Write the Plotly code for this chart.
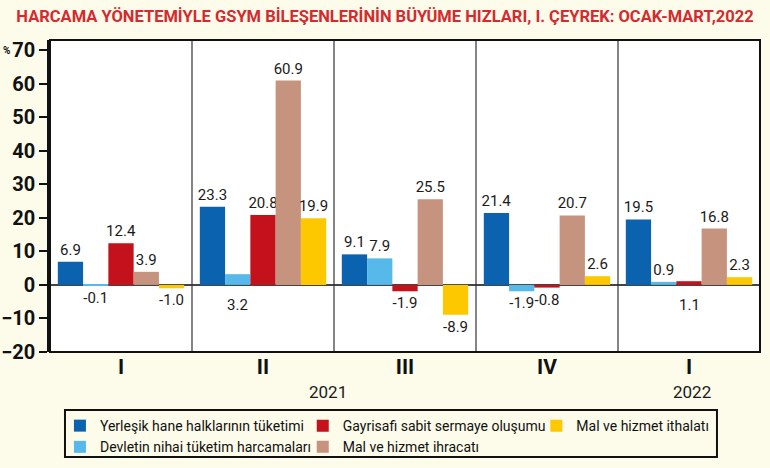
import plotly.graph_objects as go

# ---------------- data ----------------
quarters = ["I", "II", "III", "IV", "I"]
year_labels = ["2021", "2022"]
series_names = [
    "Yerleşik hane halklarının tüketimi",
    "Devletin nihai tüketim harcamaları",
    "Gayrisafi sabit sermaye oluşumu",
    "Mal ve hizmet ihracatı",
    "Mal ve hizmet ithalatı",
]
yerlesik = [6.9, 23.3, 9.1, 21.4, 19.5]
devlet = [-0.1, 3.2, 7.9, -1.9, 0.9]
gayrisafi = [12.4, 20.8, -1.9, -0.8, 1.1]
ihracat = [3.9, 60.9, 25.5, 20.7, 16.8]
ithalat = [-1.0, 19.9, -8.9, 2.6, 2.3]
series_values = [yerlesik, devlet, gayrisafi, ihracat, ithalat]
y_ticks = [-20, -10, 0, 10, 20, 30, 40, 50, 60, 70]
# (series index, quarter index) whose value label sits under the zero line
labels_below_zero = [(1, 1), (2, 4)]

# ---------------- style ----------------
colors = ["#0b62ae", "#56b9ea", "#c3121b", "#c6937e", "#fdc800"]
legend_of_series = ["legend", "legend", "legend2", "legend2", "legend3"]
FONT = "Roboto, Liberation Sans, sans-serif"
BARGAP = 0.11
LABEL_SIZE = 15

x_pos = list(range(len(quarters)))
fig = go.Figure()
for i, (name, vals) in enumerate(zip(series_names, series_values)):
    texts = []
    for q, v in enumerate(vals):
        texts.append("" if (i, q) in labels_below_zero else f"{v:.1f}")
    fig.add_trace(go.Bar(
        x=x_pos, y=vals, name=name,
        marker=dict(color=colors[i], line=dict(width=0)),
        text=texts, textposition="outside", constraintext="none",
        textfont=dict(family=FONT, size=LABEL_SIZE, color="#1a1a1a"),
        cliponaxis=False, legend=legend_of_series[i],
        hovertemplate="%{y}<extra>" + name + "</extra>",
    ))

# labels placed under the zero line for a few small positive bars
n = len(series_names)
bw = (1 - BARGAP) / n
annotations = []
for (i, q) in labels_below_zero:
    off = -(1 - BARGAP) / 2 + bw * (i + 0.5)
    annotations.append(dict(
        x=q + off, y=0, xref="x", yref="y", yanchor="top", yshift=-9,
        text=f"{series_values[i][q]:.1f}", showarrow=False,
        font=dict(family=FONT, size=LABEL_SIZE, color="#1a1a1a")))

# year labels
annotations.append(dict(x=1.46, y=-0.128, xref="x", yref="paper", text=year_labels[0],
                        showarrow=False, yanchor="middle",
                        font=dict(family=FONT, size=17, color="#1a1a1a")))
annotations.append(dict(x=4.02, y=-0.128, xref="x", yref="paper", text=year_labels[1],
                        showarrow=False, yanchor="middle",
                        font=dict(family=FONT, size=17, color="#1a1a1a")))
# percent sign
annotations.append(dict(x=-0.069, y=70, xref="paper", yref="y", text="<b>%</b>",
                        showarrow=False, xanchor="left", yanchor="middle",
                        font=dict(family=FONT, size=10, color="#111")))

shapes = []
# group separators
for k in range(len(quarters) - 1):
    shapes.append(dict(type="line", xref="x", yref="paper", x0=k + 0.5, x1=k + 0.5,
                       y0=0, y1=1, line=dict(color="#333", width=1.2)))
# plot frame
shapes.append(dict(type="rect", xref="paper", yref="paper", x0=0, x1=1, y0=0, y1=1,
                   line=dict(color="#111", width=2)))
# legend frame
shapes.append(dict(type="rect", xref="paper", yref="paper", x0=0.0211, x1=0.9394,
                   y0=-0.3365, y1=-0.1859, line=dict(color="#111", width=2)))

legend_common = dict(orientation="v", yanchor="top", y=-0.186, xanchor="left",
                     bgcolor="rgba(0,0,0,0)", tracegroupgap=0,
                     font=dict(family=FONT, size=14, color="#111"))

fig.update_layout(
    width=770, height=468,
    margin=dict(l=50, r=10, t=40, b=116, autoexpand=False),
    paper_bgcolor="#fdfbea", plot_bgcolor="#ffffff",
    barmode="group", bargap=BARGAP, bargroupgap=0,
    title=dict(text="<b>HARCAMA YÖNETEMİYLE GSYM BİLEŞENLERİNİN BÜYÜME HIZLARI, I. ÇEYREK: OCAK-MART,2022</b>",
               x=0.5, xref="container", xanchor="center", y=1 - 16 / 468, yref="container",
               yanchor="middle", font=dict(family=FONT, size=16.5, color="#d42a30")),
    xaxis=dict(range=[-0.5, len(quarters) - 0.5], tickvals=x_pos, ticktext=quarters,
               showgrid=False, zeroline=False, ticks="", showline=False,
               tickfont=dict(family=FONT, size=21, color="#111", weight="bold")),
    yaxis=dict(range=[-20, 73], tickvals=y_ticks, showgrid=False,
               zeroline=True, zerolinecolor="#444", zerolinewidth=1.5,
               ticks="outside", ticklen=8, tickwidth=2, tickcolor="#111",
               showline=True, linecolor="#111", linewidth=2.5,
               tickfont=dict(family=FONT, size=20, color="#111", weight="bold")),
    legend=dict(legend_common, x=0.014),
    legend2=dict(legend_common, x=0.356),
    legend3=dict(legend_common, x=0.685),
    showlegend=True,
    annotations=annotations,
    shapes=shapes,
)

fig.write_html("out.html")
